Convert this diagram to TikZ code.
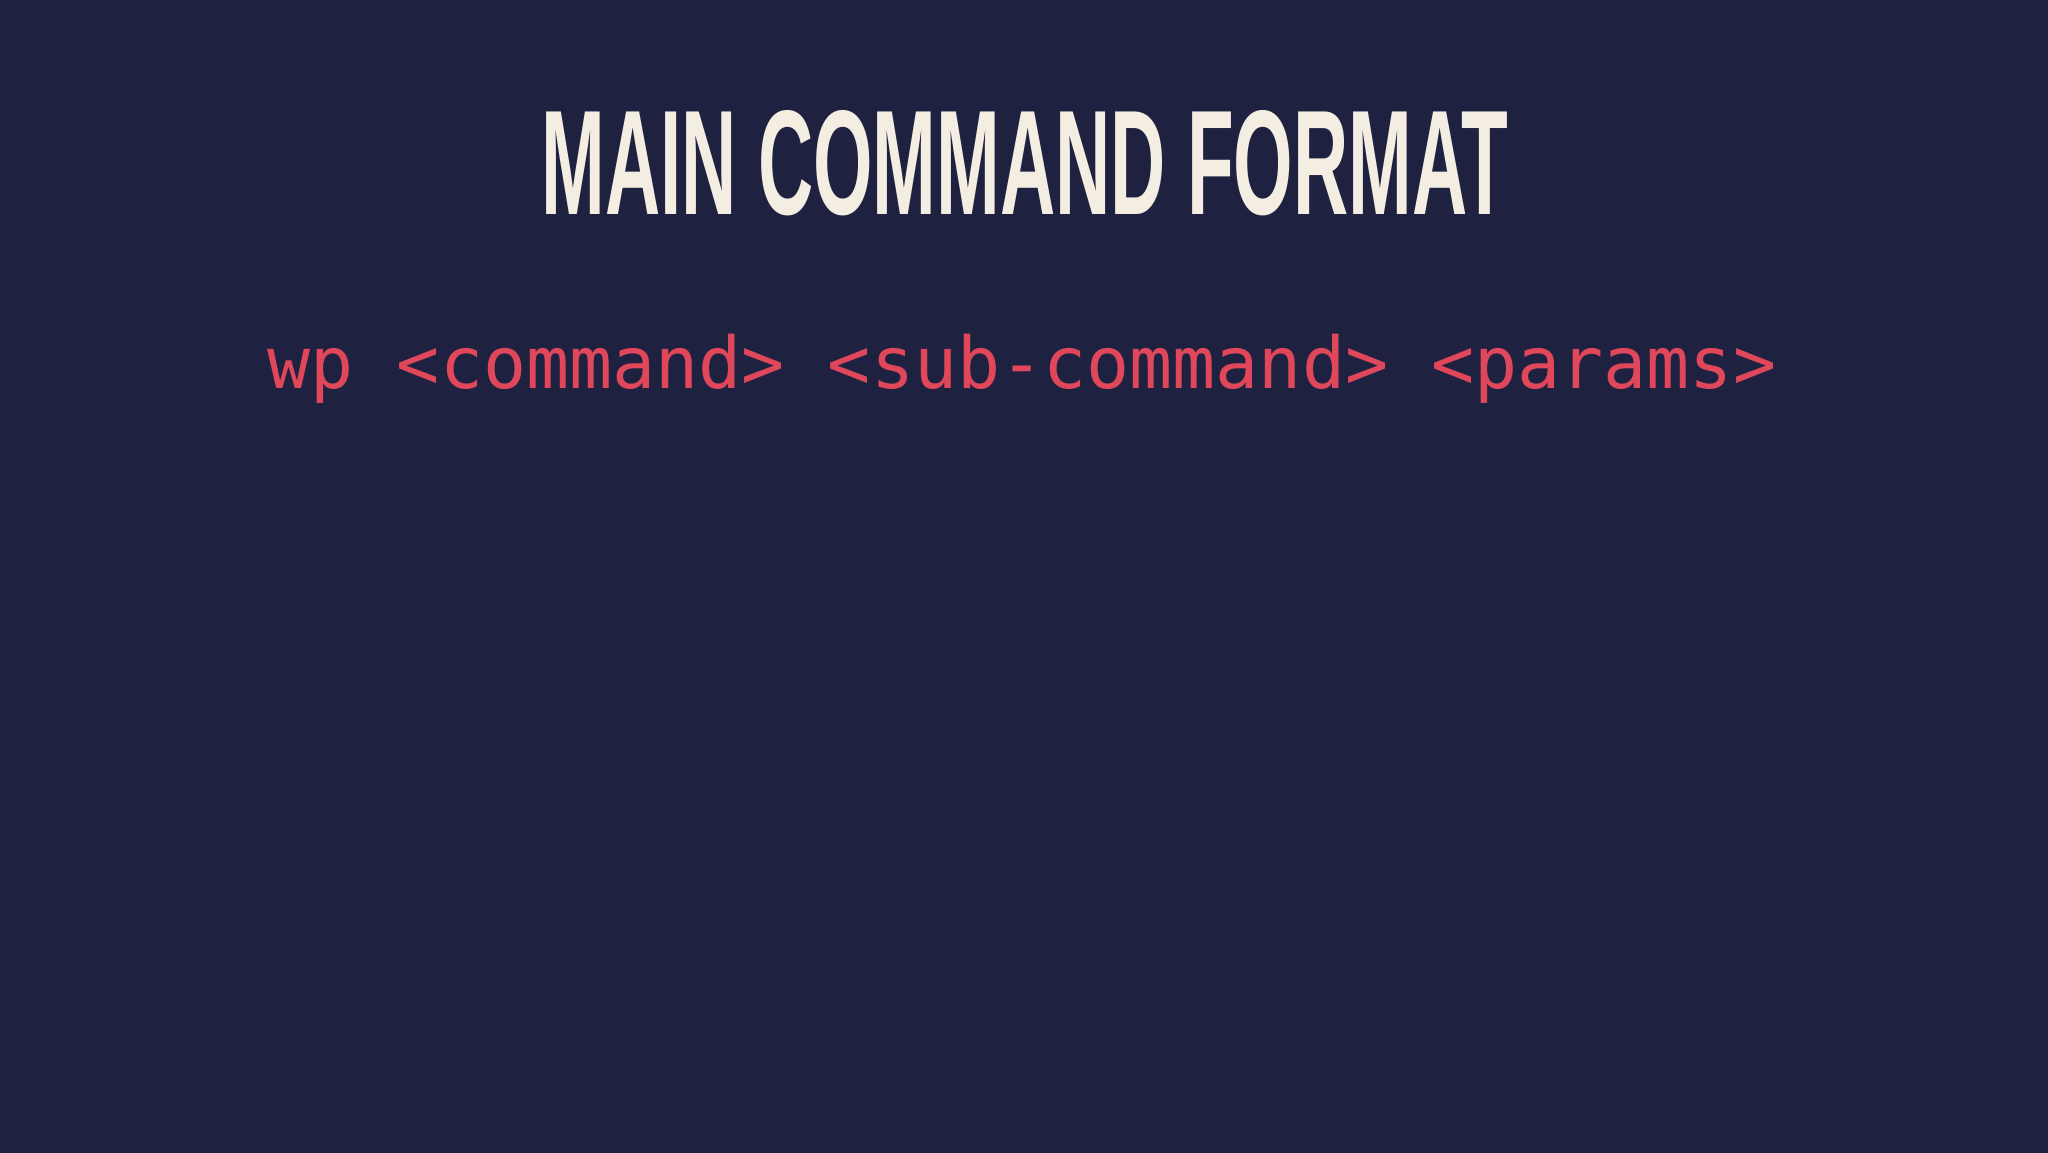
\documentclass[tikz,border=0pt]{standalone}
\usepackage{fontspec}
\setmainfont{Liberation Sans}
\newfontfamily\codefont{DejaVu Sans Mono}
\definecolor{bgc}{HTML}{1F2140}
\definecolor{titlec}{HTML}{F3EDE2}
\definecolor{codec}{HTML}{E0475A}
\tikzset{titletext/.style={text=titlec,inner sep=0pt,font=\bfseries},
codetext/.style={text=codec,inner sep=0pt,font=\codefont}}
\begin{document}
\begin{tikzpicture}[x=1pt,y=1pt]
\useasboundingbox (0,0) rectangle (2048,1152);
\fill[bgc] (-4,-4) rectangle (2052,1156);
\node[titletext] (title) at (1025,989) {\resizebox{967pt}{104pt}{MAIN COMMAND FORMAT}};
\node[codetext,anchor=base] (code) at (1022,763) {\resizebox{1508pt}{!}{wp <command> <sub-command> <params>}};
\end{tikzpicture}
\end{document}
